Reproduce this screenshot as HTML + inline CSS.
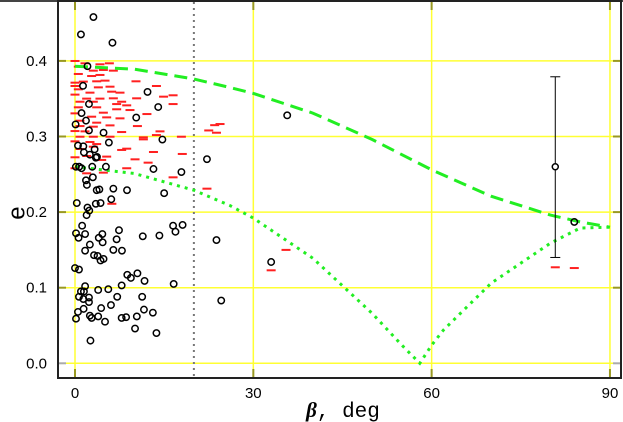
<!DOCTYPE html>
<html><head><meta charset="utf-8"><style>
body{margin:0;background:#fff;}
svg{display:block;font-family:"Liberation Sans",sans-serif;}
</style></head><body>
<svg id="chart" width="623" height="422" viewBox="0 0 623 422">
<rect x="0" y="0" width="623" height="2" fill="#444"/>
<g id="grid"></g>
<g id="series"></g>
<rect x="58" y="1" width="563" height="377" fill="none" stroke="#222" stroke-width="2"/>
<g id="labels"></g>
<text x="18" y="213" font-size="24" text-anchor="middle" transform="rotate(-90 18 213)" dominant-baseline="middle">e</text>
<text x="343" y="417" font-size="21" text-anchor="middle"><tspan font-family="Liberation Serif,serif" font-style="italic" font-weight="bold">β</tspan><tspan font-family="Liberation Mono,monospace">, deg</tspan></text>
</svg>
<script>
const xTicks=[0,30,60,90];
const yTicks=[0,0.1,0.2,0.3,0.4];
const yTickLabels=["0.0","0.1","0.2","0.3","0.4"];
const boundaryDeg=20;
const circBeta=[3.1,1.0,6.3,2.1,1.35,12.2,2.35,14.0,1.1,10.3,1.85,0.1,2.35,4.8,5.7,14.7,0.5,1.4,3.3,1.5,2.5,3.5,3.7,22.2,0.15,0.7,1.1,2.9,5.2,13.2,17.9,3.0,1.85,2.0,3.65,4.1,6.45,8.75,15.0,
0.3,3.5,4.3,2.1,2.4,1.95,6.1,1.2,16.5,18.1,16.9,7.4,0.17,1.7,0.6,4.6,4.0,11.4,14.2,23.8,7.0,2.5,4.65,1.7,6.45,7.9,3.2,3.8,4.3,4.8,0,0.67,10.5,8.8,9.4,11.7,16.6,7.85,1.7,3.9,5.6,1.0,1.5,0.67,2.35,1.4,2.35,7.1,11.3,24.6,4.4,6.05,1.45,11.6,13.1,0.5,2.5,2.8,3.9,0.17,8.6,7.85,10.4,5.05,10.1,13.7,2.6,33.0,35.7,84.0];
const circE=[0.458,0.435,0.424,0.393,0.367,0.359,0.343,0.339,0.331,0.325,0.321,0.316,0.308,0.305,0.292,0.296,0.288,0.287,0.283,0.279,0.276,0.272,0.273,0.27,0.26,0.26,0.258,0.26,0.26,0.257,0.253,0.246,0.242,0.236,0.229,0.23,0.231,0.229,0.225,
0.212,0.211,0.212,0.206,0.202,0.196,0.217,0.182,0.182,0.183,0.174,0.176,0.172,0.171,0.166,0.171,0.166,0.168,0.169,0.163,0.164,0.157,0.16,0.149,0.15,0.149,0.143,0.142,0.136,0.138,0.126,0.124,0.119,0.117,0.113,0.109,0.105,0.103,0.102,0.097,0.098,0.095,0.095,0.088,0.087,0.085,0.081,0.088,0.088,0.083,0.073,0.077,0.072,0.071,0.067,0.068,0.063,0.06,0.062,0.059,0.061,0.06,0.062,0.055,0.046,0.04,0.03,0.134,0.328,0.187];
const dashBeta=[0,1.68,4.2,5.78,0.56,3.08,4.77,6.45,0.56,2.8,4.2,10.26,0,1.4,3.65,5.05,0,3.93,5.89,13.7,0.56,2.52,6.17,7.57,0,1.96,4.2,6.45,7.85,10.37,14.9,16.5,0.84,3.08,7.01,8.7,16.5,0.56,3.65,7.01,9.25,0,4.77,12.1,2.8,5.33,7.57,0.84,3.65,0.84,3.08,5.89,10.5,0,1.68,7.85,14.3,24.4,23.8,0.84,3.08,5.89,11.5,13.7,17.9,0,2.52,3.65,11.5,0.84,3.08,8.7,7.85,0,5.33,13.2,1.96,4.49,10.1,12.3,18.05,0,8.7,1.96,4.77,16.5,22.2,6.2,33.0,35.5,80.8,84.0,22.5,23.5];
const dashE=[0.3999,0.3968,0.3955,0.3968,0.3924,0.3871,0.388,0.3871,0.3827,0.38,0.3814,0.373,0.3712,0.3726,0.373,0.3739,0.3668,0.365,0.3659,0.3668,0.3624,0.358,0.3593,0.358,0.3554,0.3501,0.3501,0.3505,0.346,0.3505,0.3527,0.3545,0.346,0.346,0.3429,0.3412,0.3429,0.3386,0.3386,0.336,0.335,0.3306,0.3315,0.3297,0.3262,0.3253,0.324,0.3209,0.3183,0.3138,0.313,0.3147,0.3138,0.3072,0.3068,0.3059,0.3068,0.3165,0.305,0.2997,0.2997,0.2997,0.2989,0.3019,0.2997,0.2936,0.2927,0.29,0.2962,0.2835,0.2865,0.2839,0.2822,0.2725,0.2734,0.2795,0.2742,0.269,0.2698,0.2654,0.2769,0.258,0.258,0.2513,0.2522,0.246,0.231,0.211,0.123,0.15,0.127,0.126,0.308,0.315];
const errBeta=[80.8];const errE=[0.26];const errLo=[0.14];const errHi=[0.379];
const curveBeta=[0,10,20,26,30,40,50,60,70,80,85,90];
const dashedCurveE=[0.393,0.389,0.376,0.365,0.357,0.331,0.296,0.256,0.221,0.196,0.187,0.18];
const dotBeta=[0,10,20,26,30,40,50,55,58,60,62,70,80,85,90];
const dottedCurveE=[0.26,0.251,0.229,0.209,0.192,0.139,0.066,0.024,0.0,0.024,0.044,0.106,0.159,0.179,0.18];

const X=d=>75+d*5.944, Y=e=>363.3-e*756;
const NS='http://www.w3.org/2000/svg';
function mk(tag,parent,attrs){const el=document.createElementNS(NS,tag);for(const k in attrs)el.setAttribute(k,attrs[k]);parent.appendChild(el);return el;}
const grid=document.getElementById('grid'),ser=document.getElementById('series'),lab=document.getElementById('labels');
yTicks.forEach((t,i)=>{
  const l=mk('line',grid,{x1:58,x2:621,y1:Y(t),y2:Y(t),stroke:'#ffff33','stroke-width':1.5});
  
  
  mk('line',grid,{x1:58,x2:66,y1:Y(t),y2:Y(t),stroke:i==0?'#aaa':'#999922','stroke-width':2});
  mk('line',grid,{x1:613,x2:621,y1:Y(t),y2:Y(t),stroke:i==0?'#aaa':'#999922','stroke-width':2});
  const tx=mk('text',lab,{x:47,y:Y(t)+5,'font-size':15,'text-anchor':'end'});
  tx.textContent=yTickLabels[i];
  
  
});
xTicks.forEach(t=>{
  const l=mk('line',grid,{x1:X(t),x2:X(t),y1:1,y2:378,stroke:'#ffff33','stroke-width':1.5});
  
  
  mk('line',grid,{x1:X(t),x2:X(t),y1:369,y2:378,stroke:'#999922','stroke-width':2});
  mk('line',grid,{x1:X(t),x2:X(t),y1:1,y2:10,stroke:'#999922','stroke-width':2});
  const tx=mk('text',lab,{x:X(t),y:398,'font-size':15,'text-anchor':'middle'});
  tx.textContent=String(t);
  
  
});
const bl=mk('line',grid,{x1:X(boundaryDeg),x2:X(boundaryDeg),y1:2,y2:378,stroke:'#777','stroke-width':2,'stroke-dasharray':'2 4'});


dashBeta.forEach((b,i)=>{
  const r=mk('rect',ser,{x:X(b)-4.5,y:Y(dashE[i])-1,width:9,height:2,fill:'#ff2020'});
  
  
});
const pd=curveBeta.map((b,i)=>(i?'L':'M')+X(b).toFixed(1)+','+Y(dashedCurveE[i]).toFixed(1)).join('');
const p1=mk('path',ser,{d:pd,fill:'none',stroke:'#22ee22','stroke-width':3,'stroke-dasharray':'13 7'});


const pt=dotBeta.map((b,i)=>(i?'L':'M')+X(b).toFixed(1)+','+Y(dottedCurveE[i]).toFixed(1)).join('');
const p2=mk('path',ser,{d:pt,fill:'none',stroke:'#22ee22','stroke-width':3,'stroke-dasharray':'3 5'});


errBeta.forEach((b,i)=>{
  const g=mk('g',ser,{});
  
  
  mk('line',g,{x1:X(b),x2:X(b),y1:Y(errHi[i]),y2:Y(errLo[i]),stroke:'#000','stroke-width':1});
  mk('line',g,{x1:X(b)-5,x2:X(b)+5,y1:Y(errHi[i]),y2:Y(errHi[i]),stroke:'#000','stroke-width':1});
  mk('line',g,{x1:X(b)-5,x2:X(b)+5,y1:Y(errLo[i]),y2:Y(errLo[i]),stroke:'#000','stroke-width':1});
  mk('circle',g,{cx:X(b),cy:Y(errE[i]),r:3,fill:'#fff',stroke:'#000','stroke-width':1.5});
});
circBeta.forEach((b,i)=>{
  const c=mk('circle',ser,{cx:X(b),cy:Y(circE[i]),r:3.2,fill:'none',stroke:'#000','stroke-width':1.5});
  
  
});
</script>
</body></html>
